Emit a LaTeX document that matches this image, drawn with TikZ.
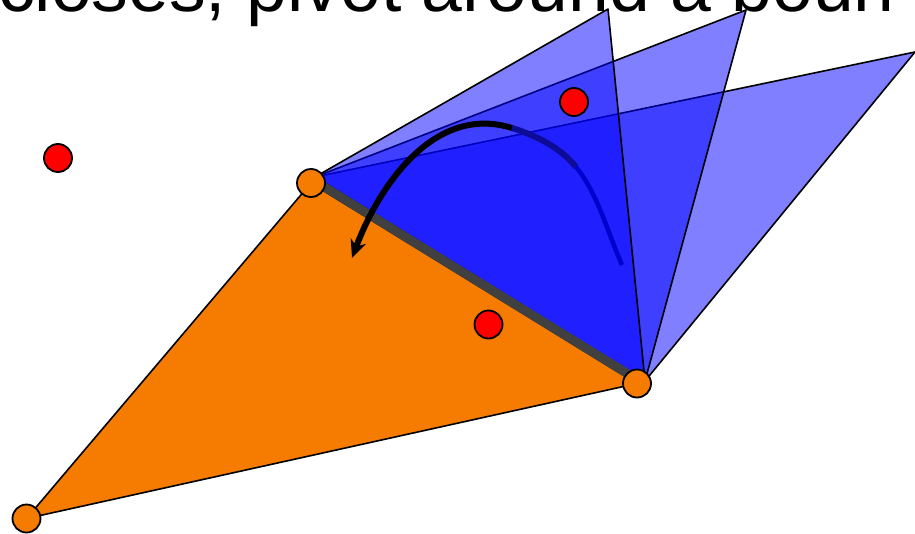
\documentclass[tikz,border=0pt]{standalone}
\usepackage{fontspec}
\setmainfont{Liberation Sans}
\usetikzlibrary{arrows.meta}
\definecolor{orng}{RGB}{245,124,0}
\definecolor{gband}{RGB}{64,64,64}
\definecolor{navyA}{RGB}{12,12,150}
\definecolor{navyB}{RGB}{0,0,205}
\begin{document}
\begin{tikzpicture}[x=1pt,y=-1pt,
  tri/.style={draw=black, line width=1.6pt, line join=round},
  bluetri/.style={tri, fill=blue, fill opacity=0.5},
  vert/.style={circle, draw=black, line width=1.8pt, fill=orng, minimum size=28pt, inner sep=0pt},
  reddot/.style={circle, draw=black, line width=1.8pt, fill=red, minimum size=28pt, inner sep=0pt},
  arcseg/.style={line cap=butt}]
\useasboundingbox (0,0) rectangle (915,533);
% vertices
\coordinate (A) at (311,183);
\coordinate (B) at (637,383.5);
\coordinate (C) at (26.5,518.5);
\coordinate (Ab) at (315,177);
\coordinate (Bb) at (645,381);
\coordinate (T1) at (608,9);
\coordinate (T2) at (746,10);
\coordinate (T3) at (915,52);
\coordinate (G1) at (313,180);
\coordinate (G2) at (641,382);
% arc points
\coordinate (R0) at (622,265);
\coordinate (P2) at (576,167);
\coordinate (P1) at (512,128);
\coordinate (Tip) at (352,258);
% title
\node[anchor=base west, inner sep=0pt, font=\fontsize{73.3}{80}\selectfont] (title) at (-2,11) {closes, pivot around a boun};
% orange triangle
\draw[tri, fill=orng] (A) -- (B) -- (C) -- cycle;
% blue triangles
\draw[bluetri] (Ab) -- (T3) -- (Bb) -- cycle;
\draw[bluetri] (Ab) -- (T2) -- (Bb) -- cycle;
\draw[bluetri] (Ab) -- (T1) -- (Bb) -- cycle;
% shared edge
\draw[gband, line width=9pt] (G1) -- (G2);
% pivot arrow
\draw[arcseg, navyB, line width=4.5pt] (R0) .. controls (607,231) and (598,194) .. (P2);
\draw[arcseg, navyA, line width=6pt] (P2) .. controls (560.5,147.5) and (536,135.5) .. (P1);
\draw[arcseg, black, line width=6pt, -{Stealth[length=18pt,width=16pt]}] (P1) .. controls (436,104) and (380,183) .. (Tip);
% vertex markers
\node[vert] (vA) at (A) {};
\node[vert] (vB) at (B) {};
\node[vert] (vC) at (C) {};
% red points
\node[reddot] (r1) at (58,158) {};
\node[reddot] (r2) at (574,102) {};
\node[reddot] (r3) at (488.5,324.5) {};
\end{tikzpicture}
\end{document}
